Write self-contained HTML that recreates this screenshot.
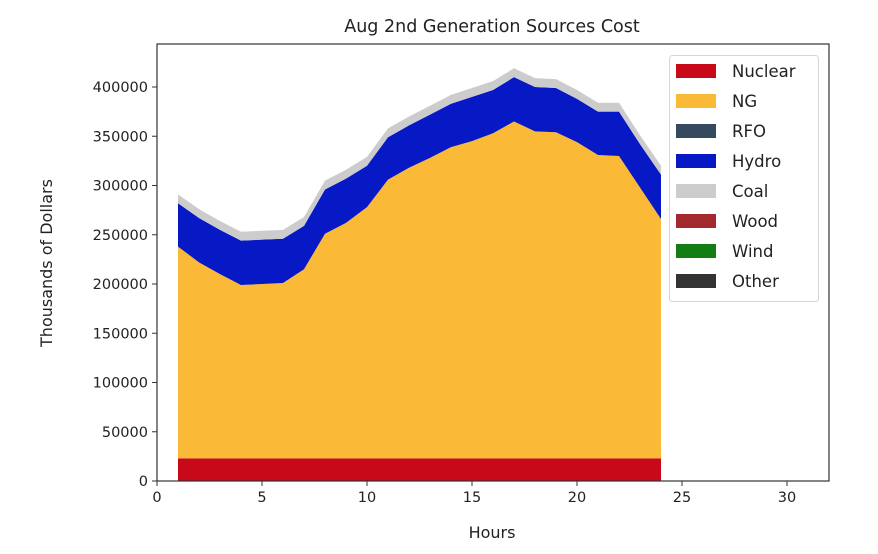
<!DOCTYPE html>
<html><head><meta charset="utf-8"><style>
body{margin:0;background:#fff}
svg{display:block;font-family:"DejaVu Sans","Liberation Sans",sans-serif}
</style></head><body>
<svg id="chart" width="878" height="554" viewBox="0 0 878 554">
<text x="492" y="32" font-size="17.5" text-anchor="middle" fill="#222">Aug 2nd Generation Sources Cost</text>
<g id="areas"></g>
<g id="axes"></g>
<g id="legend"></g>
<text x="492" y="538" font-size="16" text-anchor="middle" fill="#222">Hours</text>
<text transform="translate(52,263) rotate(-90)" font-size="16" text-anchor="middle" fill="#222">Thousands of Dollars</text>
</svg>
<script>
const hours=[1,2,3,4,5,6,7,8,9,10,11,12,13,14,15,16,17,18,19,20,21,22,23,24];
const nuclear=[23000,23000,23000,23000,23000,23000,23000,23000,23000,23000,23000,23000,23000,23000,23000,23000,23000,23000,23000,23000,23000,23000,23000,23000];
const ng=[215000,199000,187000,176000,177000,178000,192000,228000,239000,255000,283000,295000,305000,316000,322000,330000,342000,332000,331000,321000,308000,307000,275000,243000];
const rfo=[0,0,0,0,0,0,0,0,0,0,0,0,0,0,0,0,0,0,0,0,0,0,0,0];
const hydro=[44000,45000,45000,45000,45000,45000,44000,45000,45000,42000,43000,43000,44000,44000,45000,44000,45000,45000,45000,44000,44000,45000,44000,45000];
const coal=[9000,9000,9000,9000,9000,9000,9000,9000,9000,9000,9000,9000,9000,9000,9000,9000,9000,9000,9000,9000,9000,9000,9000,9000];
const wood=hours.map(()=>0), wind=hours.map(()=>0), other=hours.map(()=>0);
const seriesNames=["Nuclear","NG","RFO","Hydro","Coal","Wood","Wind","Other"];
const seriesColors=["#c8091a","#fbb938","#364a5f","#0719c4","#cccccc","#a2292e","#127d12","#333333"];
const seriesData=[nuclear,ng,rfo,hydro,coal,wood,wind,other];
const xTicks=[0,5,10,15,20,25,30];
const yTicks=[0,50000,100000,150000,200000,250000,300000,350000,400000];

const L=157,R=829,T=44,B=481;
const xs=v=>L+(v-0)/32*(R-L);
const ys=v=>B-v*(394/400000);
const NS="http://www.w3.org/2000/svg";
const mk=(t,a)=>{const e=document.createElementNS(NS,t);for(const k in a)e.setAttribute(k,a[k]);return e;};
const areas=document.getElementById('areas');
let base=hours.map(()=>0);
seriesData.forEach((s,i)=>{
  const top=base.map((b,j)=>b+s[j]);
  let d="M"+hours.map((h,j)=>xs(h)+","+ys(top[j])).join("L");
  for(let j=hours.length-1;j>=0;j--)d+="L"+xs(hours[j])+","+ys(base[j]);
  d+="Z";
  const p=mk('path',{d:d,fill:seriesColors[i]});
  
  
  areas.appendChild(p);
  base=top;
});
const axes=document.getElementById('axes');
const frame=mk('rect',{x:L,y:T,width:R-L,height:B-T,fill:'none',stroke:'#333','stroke-width':1.2});


axes.appendChild(frame);
xTicks.forEach(v=>{
  const x=xs(v);
  axes.appendChild(mk('line',{x1:x,x2:x,y1:B,y2:B+5,stroke:'#333'}));
  const t=mk('text',{x:x,y:B+21,'font-size':14.5,'text-anchor':'middle',fill:'#222'});
  t.textContent=v;
  
  
  axes.appendChild(t);
});
yTicks.forEach(v=>{
  const y=ys(v);
  axes.appendChild(mk('line',{x1:L-5,x2:L,y1:y,y2:y,stroke:'#333'}));
  const t=mk('text',{x:L-9,y:y+5,'font-size':14.5,'text-anchor':'end',fill:'#222'});
  t.textContent=v;
  
  
  axes.appendChild(t);
});
const lg=document.getElementById('legend');
const box=mk('rect',{x:669.5,y:55.5,width:149,height:246,rx:3,fill:'#fff','fill-opacity':0.85,stroke:'#d6d6d6'});


lg.appendChild(box);
seriesNames.forEach((n,i)=>{
  const y=71+i*30;
  const r=mk('rect',{x:676,y:y-7,width:40,height:14,fill:seriesColors[i]});
  
  
  lg.appendChild(r);
  const t=mk('text',{x:732,y:y+6,'font-size':16.5,fill:'#222'});
  t.textContent=n;
  
  
  lg.appendChild(t);
});
</script>
</body></html>
